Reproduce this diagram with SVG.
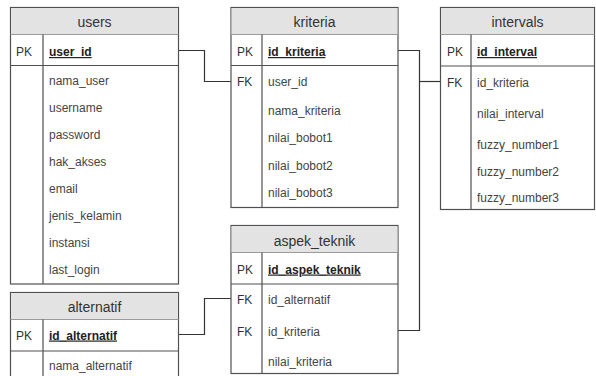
<svg xmlns="http://www.w3.org/2000/svg" width="596" height="376" viewBox="0 0 596 376">
<style>
.box{fill:#ffffff;stroke:#505050;stroke-width:1.2}
.hdr{fill:#e3e3e3;stroke:none}
.sep{stroke:#505050;stroke-width:1.2;fill:none}
.hsep{stroke:#9a9a9a;stroke-width:1;fill:none}
.ttl{font-family:"Liberation Sans",Arial,sans-serif;font-size:14px;fill:#333;text-anchor:middle}
.key{font-family:"Liberation Sans",Arial,sans-serif;font-size:12px;fill:#333}
.pk{font-family:"Liberation Sans",Arial,sans-serif;font-size:12px;font-weight:bold;fill:#222;text-decoration:underline}
.fld{font-family:"Liberation Sans",Arial,sans-serif;font-size:12px;fill:#444}
.con{stroke:#333;stroke-width:1.2;fill:none}
</style>
<rect width="596" height="376" fill="#ffffff"/>

<g id="connectors">
<polyline class="con" points="178.5,50.5 204.5,50.5 204.5,81.5 231,81.5"/>
<polyline class="con" points="398,50.5 419.5,50.5 419.5,330.5 398,330.5"/>
<polyline class="con" points="419.5,81.5 440.5,81.5"/>
<polyline class="con" points="178.5,334.5 204.5,334.5 204.5,298.5 231,298.5"/>
</g>

<g id="users">
<rect class="box" x="10.5" y="7.5" width="168" height="276.5"/>
<rect class="hdr" x="11.1" y="8.1" width="166.8" height="26"/>
<line class="hsep" x1="10.5" y1="34.5" x2="178.5" y2="34.5"/>
<line class="sep" x1="43" y1="34.5" x2="43" y2="284"/>
<line class="sep" x1="10.5" y1="65.5" x2="178.5" y2="65.5"/>
<text class="ttl" x="94.5" y="27">users</text>
<text class="key" x="16" y="56">PK</text>
<text class="pk" x="49" y="56">user_id</text>
<text class="fld" x="49" y="85">nama_user</text>
<text class="fld" x="49" y="112">username</text>
<text class="fld" x="49" y="139">password</text>
<text class="fld" x="49" y="166">hak_akses</text>
<text class="fld" x="49" y="193">email</text>
<text class="fld" x="49" y="220">jenis_kelamin</text>
<text class="fld" x="49" y="247">instansi</text>
<text class="fld" x="49" y="274">last_login</text>
</g>

<g id="kriteria">
<rect class="box" x="231" y="7.5" width="167" height="200"/>
<rect class="hdr" x="231.6" y="8.1" width="165.8" height="26"/>
<line class="hsep" x1="231" y1="34.5" x2="398" y2="34.5"/>
<line class="sep" x1="262" y1="34.5" x2="262" y2="207.5"/>
<line class="sep" x1="231" y1="65.5" x2="398" y2="65.5"/>
<text class="ttl" x="314.5" y="27">kriteria</text>
<text class="key" x="237" y="56">PK</text>
<text class="pk" x="268" y="56">id_kriteria</text>
<text class="key" x="237" y="86">FK</text>
<text class="fld" x="268" y="86">user_id</text>
<text class="fld" x="268" y="115">nama_kriteria</text>
<text class="fld" x="268" y="142">nilai_bobot1</text>
<text class="fld" x="268" y="170">nilai_bobot2</text>
<text class="fld" x="268" y="197">nilai_bobot3</text>
</g>

<g id="intervals">
<rect class="box" x="440.5" y="7.5" width="154" height="202"/>
<rect class="hdr" x="441.1" y="8.1" width="152.8" height="26"/>
<line class="hsep" x1="440.5" y1="34.5" x2="594.5" y2="34.5"/>
<line class="sep" x1="471" y1="34.5" x2="471" y2="209.5"/>
<line class="sep" x1="440.5" y1="66" x2="594.5" y2="66"/>
<text class="ttl" x="517.5" y="27">intervals</text>
<text class="key" x="447" y="56">PK</text>
<text class="pk" x="477" y="56">id_interval</text>
<text class="key" x="447" y="86.5">FK</text>
<text class="fld" x="477" y="86.5">id_kriteria</text>
<text class="fld" x="477" y="117.5">nilai_interval</text>
<text class="fld" x="477" y="148.5">fuzzy_number1</text>
<text class="fld" x="477" y="175.5">fuzzy_number2</text>
<text class="fld" x="477" y="202">fuzzy_number3</text>
</g>

<g id="aspek_teknik">
<rect class="box" x="231" y="225.5" width="167" height="148"/>
<rect class="hdr" x="231.6" y="226.1" width="165.8" height="26"/>
<line class="hsep" x1="231" y1="252.5" x2="398" y2="252.5"/>
<line class="sep" x1="262" y1="252.5" x2="262" y2="373.5"/>
<line class="sep" x1="231" y1="284" x2="398" y2="284"/>
<text class="ttl" x="314.5" y="246">aspek_teknik</text>
<text class="key" x="237" y="273.5">PK</text>
<text class="pk" x="268" y="273.5">id_aspek_teknik</text>
<text class="key" x="237" y="304">FK</text>
<text class="fld" x="268" y="304">id_alternatif</text>
<text class="key" x="237" y="335.5">FK</text>
<text class="fld" x="268" y="335.5">id_kriteria</text>
<text class="fld" x="268" y="366">nilai_kriteria</text>
</g>

<g id="alternatif">
<rect class="box" x="10.5" y="292.5" width="168" height="90"/>
<rect class="hdr" x="11.1" y="293.1" width="166.8" height="26"/>
<line class="hsep" x1="10.5" y1="319.5" x2="178.5" y2="319.5"/>
<line class="sep" x1="43" y1="319.5" x2="43" y2="382"/>
<line class="sep" x1="10.5" y1="351" x2="178.5" y2="351"/>
<text class="ttl" x="94.5" y="311.5">alternatif</text>
<text class="key" x="16" y="339.5">PK</text>
<text class="pk" x="49" y="339.5">id_alternatif</text>
<text class="fld" x="49" y="370">nama_alternatif</text>
</g>
</svg>
